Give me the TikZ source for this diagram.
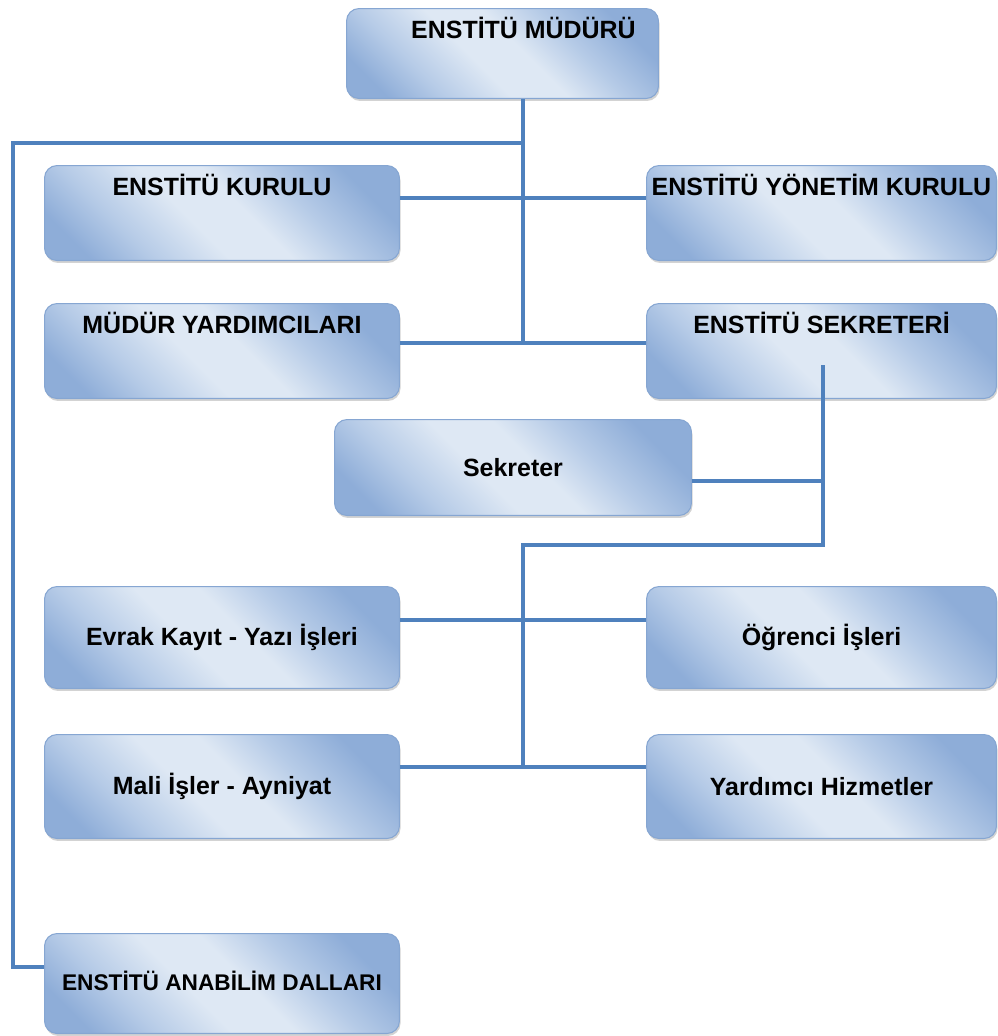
\documentclass[tikz,border=0pt]{standalone}
\usepackage{fontspec}
\setmainfont{Liberation Sans}
\usetikzlibrary{shadows}
\definecolor{boxdark}{HTML}{8EADD8}
\definecolor{boxmid}{HTML}{B6CBE7}
\definecolor{boxlight}{HTML}{DEE8F4}
\definecolor{boxedge}{HTML}{86A6D2}
\definecolor{lineblue}{HTML}{4F81BD}
\pgfdeclareverticalshading{orgshade}{100bp}{
  color(0bp)=(boxdark); color(24bp)=(boxdark); color(36bp)=(boxmid);
  color(46bp)=(boxlight); color(56bp)=(boxlight); color(68bp)=(boxmid);
  color(78bp)=(boxdark); color(100bp)=(boxdark)}
\tikzset{
  orgbox/.style={
    rectangle, rounded corners=0.25cm, draw=boxedge, line width=0.6pt,
    shade, shading=orgshade, shading angle=135,
    drop shadow={shadow xshift=0.6pt, shadow yshift=-1.4pt, opacity=0.35},
    font=\bfseries\fontsize{14.2}{16}\selectfont, align=center,
    inner xsep=0.05cm, anchor=north west
  },
  leftbox/.style={orgbox, minimum width=7.1cm, minimum height=#1},
  leftbox/.default=1.9cm,
  rightbox/.style={orgbox, minimum width=7.0cm, minimum height=#1},
  rightbox/.default=1.9cm,
  toptext/.style={text height=0.353cm, text depth=#1, inner ysep=0.24cm},
  toptext/.default=1.067cm,
  orgline/.style={draw=lineblue, line width=2.2pt},
}
\begin{document}
\begin{tikzpicture}[x=0.02cm, y=-0.02cm]
  \useasboundingbox (0,0) rectangle (998,1036);

  % upper level
  \node[orgbox, minimum width=6.24cm, minimum height=1.8cm, toptext=0.967cm]
    (mudur) at (346,8) {\hspace*{0.84cm}ENSTİTÜ MÜDÜRÜ};
  \node[leftbox, toptext] (kurul) at (44,165) {ENSTİTÜ KURULU};
  \node[rightbox, toptext] (yonetim) at (646,165) {ENSTİTÜ YÖNETİM KURULU};
  \node[leftbox, toptext] (yardimcilar) at (44,303) {MÜDÜR YARDIMCILARI};
  \node[rightbox, toptext] (sekreterlik) at (646,303) {ENSTİTÜ SEKRETERİ};

  % secretariat units
  \node[orgbox, minimum width=7.14cm, minimum height=1.92cm]
    (sekreter) at (334,419) {\raisebox{-0.15cm}{Sekreter}};
  \node[leftbox=2.04cm] (evrak) at (44,586) {Evrak Kayıt - Yazı İşleri};
  \node[rightbox=2.04cm] (ogrenci) at (646,586) {Öğrenci İşleri};
  \node[leftbox=2.08cm] (mali) at (44,734) {Mali İşler - Ayniyat};
  \node[rightbox=2.08cm] (hizmet) at (646,734) {Yardımcı Hizmetler};
  \node[leftbox=2.0cm, font=\bfseries\fontsize{12.9}{15}\selectfont]
    (anabilim) at (44,933) {\raisebox{0.1cm}{ENSTİTÜ ANABİLİM DALLARI}};

  % connectors
  \coordinate (trunk) at (523,143);
  \coordinate (edge) at (13,143);
  \coordinate (sekdrop) at (823,365);
  \coordinate (sekturn) at (823,545);
  \coordinate (unitsturn) at (523,545);

  \draw[orgline] (mudur.south -| trunk) -- (523,343);
  \draw[orgline] (trunk) -- (edge) -- (13,967) -- (anabilim.west |- 0,967);
  \draw[orgline] (kurul.east |- 0,198) -- (yonetim.west |- 0,198);
  \draw[orgline] (yardimcilar.east |- 0,343) -- (sekreterlik.west |- 0,343);
  \draw[orgline] (sekdrop) -- (sekturn) -- (unitsturn) -- (523,767);
  \draw[orgline] (sekreter.east |- 0,481) -- (sekdrop |- 0,481);
  \draw[orgline] (evrak.east |- 0,620) -- (ogrenci.west |- 0,620);
  \draw[orgline] (mali.east |- 0,767) -- (hizmet.west |- 0,767);
\end{tikzpicture}
\end{document}
